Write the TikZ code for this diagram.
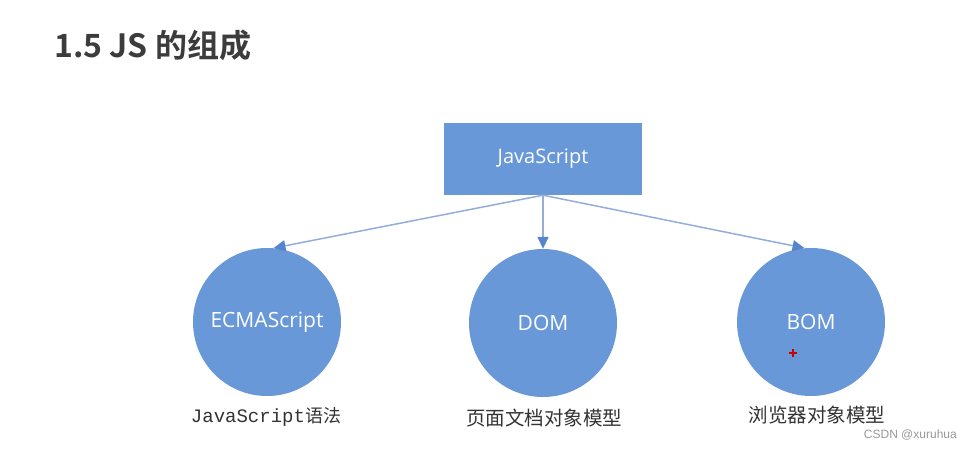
\documentclass[tikz,border=0pt]{standalone}
\usepackage{fontspec}
\usetikzlibrary{arrows.meta}
\setmainfont{Open Sans}
\newfontfamily\cjk{Noto Sans CJK SC}
\newfontfamily\cjkbold{Noto Sans CJK SC Bold}
\newfontfamily\monofnt{Liberation Mono}
\newfontfamily\wmfont{Liberation Sans}
\definecolor{shapeblue}{HTML}{6898D8}
\definecolor{linecol}{HTML}{94AEDC}
\definecolor{tipcol}{HTML}{5585CC}
\definecolor{titlecol}{HTML}{3C3C3C}
\definecolor{labelcol}{HTML}{333333}
\tikzset{
  topbox/.style={fill=shapeblue, draw=none, minimum width=198pt, minimum height=72pt, inner sep=0pt, text=white, font=\fontsize{20}{24}\selectfont},
  partcircle/.style={circle, fill=shapeblue, draw=none, minimum size=148pt, inner sep=0pt, text=white, font=\fontsize{21}{25}\selectfont},
  conn/.style={draw=linecol, line width=1.5pt, -{Triangle[length=12pt,width=11pt,fill=tipcol,color=tipcol]}},
  partlabel/.style={text=labelcol, inner sep=0pt}
}
\begin{document}
\begin{tikzpicture}[x=1pt,y=-1pt]
\useasboundingbox[fill=white] (0,0) rectangle (972,450);
\node[anchor=west, text=titlecol, inner sep=0pt, font=\cjkbold\fontsize{32}{36}\selectfont] (title) at (54,45) {1.5 JS 的组成};
\node[topbox] (js) at (543,159) {JavaScript};
\node[partcircle] (ecma) at (267,322) {ECMAScript};
\node[partcircle] (dom) at (543,323) {DOM};
\node[partcircle] (bom) at (811,322) {BOM};
\draw[conn] (js.south) -- (ecma.85);
\draw[conn] (js.south) -- (dom.north);
\draw[conn] (js.south) -- (bom.95);
\node[partlabel] (l1) at (266,417) {\monofnt\fontsize{19}{22}\selectfont JavaScript\cjk\fontsize{18}{22}\selectfont 语法};
\node[partlabel, font=\cjk\fontsize{19.5}{22}\selectfont] (l2) at (544,418) {页面文档对象模型};
\node[partlabel, font=\cjk\fontsize{19.5}{22}\selectfont] (l3) at (817,415) {浏览器对象模型};
\node[anchor=east, text=gray!80, inner sep=0pt, font=\wmfont\fontsize{12}{14}\selectfont] (wm) at (957,435) {CSDN @xuruhua};
\node[inner sep=0pt, minimum size=0pt] (cursor) at (793,353) {};
\draw[red!80!black, line width=1.8pt] ([xshift=-4pt]cursor.center) -- ([xshift=4pt]cursor.center);
\draw[red!80!black, line width=1.8pt] ([yshift=-4pt]cursor.center) -- ([yshift=4pt]cursor.center);
\end{tikzpicture}
\end{document}
